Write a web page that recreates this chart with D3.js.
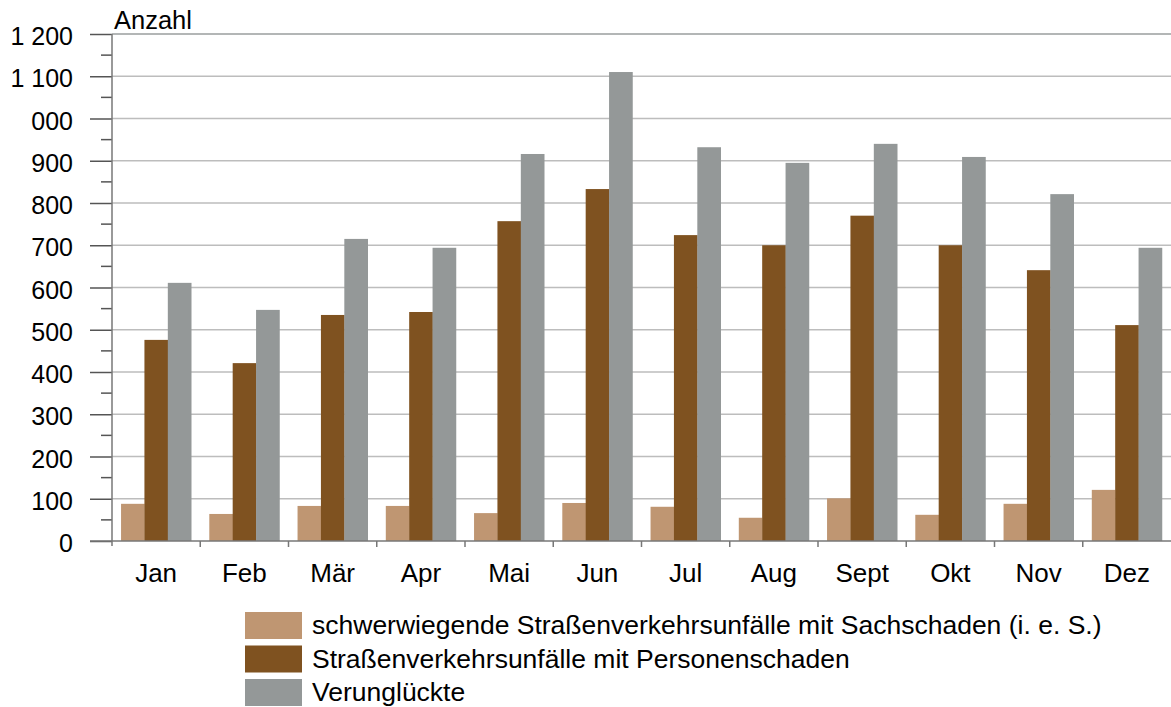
<!DOCTYPE html>
<html>
<head>
<meta charset="utf-8">
<script src="https://cdn.jsdelivr.net/npm/d3@7"></script>
<style>
  body { margin: 0; background: #fff; }
  svg text { font-family: "Liberation Sans", Arial, sans-serif; fill: #000; }
</style>
</head>
<body>
<div id="chart"></div>
<script>
// months on the x axis
const months = ["Jan", "Feb", "Mär", "Apr", "Mai", "Jun", "Jul", "Aug", "Sept", "Okt", "Nov", "Dez"];

// values
const sachschaden = [88, 64, 83, 83, 66, 90, 81, 55, 101, 62, 88, 121];
const personenschaden = [476, 421, 535, 542, 757, 833, 724, 700, 770, 700, 641, 511];
const verunglueckte = [611, 547, 715, 694, 916, 1110, 932, 895, 940, 909, 821, 694];

const seriesNames = [
  "schwerwiegende Straßenverkehrsunfälle mit Sachschaden (i. e. S.)",
  "Straßenverkehrsunfälle mit Personenschaden",
  "Verunglückte"
];
const seriesColors = ["#bf9672", "#7f5220", "#949898"];

const yTicks = [0, 100, 200, 300, 400, 500, 600, 700, 800, 900, 1000, 1100, 1200];
const yTickLabels = ["0", "100", "200", "300", "400", "500", "600", "700", "800", "900", "000", "1 100", "1 200"];

const width = 1171, height = 707;
const margin = {top: 34, right: 0, bottom: 166, left: 112};

const svg = d3.select("#chart").append("svg")
  .attr("width", width)
  .attr("height", height);

// full category slot (ticks at boundaries)
const xSlot = d3.scaleBand().domain(months).range([margin.left, width - margin.right]);

const x1 = d3.scaleBand()
  .domain([0, 1, 2])
  .range([0, xSlot.bandwidth() * 0.795]);

const y = d3.scaleLinear()
  .domain([0, 1200])
  .range([height - margin.bottom, margin.top]);

// gridlines
svg.append("g")
  .selectAll("line")
  .data(yTicks.filter(d => d > 0))
  .join("line")
  .attr("x1", margin.left)
  .attr("x2", width)
  .attr("y1", d => y(d))
  .attr("y2", d => y(d))
  .attr("stroke", d => d === 1200 ? "#9a9e9e" : "#bdbdbd")
  .attr("stroke-width", 1.5);

// bars
const data = [sachschaden, personenschaden, verunglueckte];
const groups = svg.append("g")
  .selectAll("g")
  .data(months)
  .join("g")
  .attr("transform", d => `translate(${xSlot(d) + xSlot.bandwidth() * 0.1025},0)`);

groups.selectAll("rect")
  .data((m, i) => data.map((s, k) => ({k: k, v: s[i]})))
  .join("rect")
  .attr("x", d => x1(d.k))
  .attr("width", x1.bandwidth() + 0.3)
  .attr("y", d => y(d.v))
  .attr("height", d => y(0) - y(d.v))
  .attr("fill", d => seriesColors[d.k]);

// y axis
const yAxis = svg.append("g")
  .attr("transform", `translate(${margin.left},0)`)
  .call(d3.axisLeft(y)
    .tickValues(yTicks)
    .tickSize(22)
    .tickPadding(17)
    .tickFormat((d, i) => yTickLabels[i]));
yAxis.select(".domain").remove();
yAxis.selectAll(".tick line").attr("stroke", "#555").attr("stroke-width", 1.5);
yAxis.selectAll(".tick text")
  .attr("font-size", "25px")
  .attr("dy", "0.42em")
  .attr("fill", "#000");

// minor ticks
svg.append("g")
  .selectAll("line")
  .data(d3.range(50, 1200, 100))
  .join("line")
  .attr("x1", margin.left - 11)
  .attr("x2", margin.left)
  .attr("y1", d => y(d))
  .attr("y2", d => y(d))
  .attr("stroke", "#555")
  .attr("stroke-width", 1.5);

// vertical axis line
svg.append("line")
  .attr("x1", margin.left).attr("x2", margin.left)
  .attr("y1", y(1200)).attr("y2", y(0) + 5)
  .attr("stroke", "#777").attr("stroke-width", 1.5);

// x axis
svg.append("line")
  .attr("x1", margin.left - 22).attr("x2", width)
  .attr("y1", y(0)).attr("y2", y(0))
  .attr("stroke", "#777").attr("stroke-width", 1.5);

svg.append("g")
  .selectAll("line")
  .data(months.slice(1))
  .join("line")
  .attr("x1", d => xSlot(d)).attr("x2", d => xSlot(d))
  .attr("y1", y(0)).attr("y2", y(0) + 6)
  .attr("stroke", "#777").attr("stroke-width", 1.5);

svg.append("g")
  .selectAll("text")
  .data(months)
  .join("text")
  .attr("x", d => xSlot(d) + xSlot.bandwidth() / 2)
  .attr("y", y(0) + 41)
  .attr("text-anchor", "middle")
  .attr("font-size", "26px")
  .text(d => d);

// axis title
svg.append("text")
  .attr("x", 114)
  .attr("y", 29)
  .attr("font-size", "25.5px")
  .text("Anzahl");

// legend
const legend = svg.append("g")
  .selectAll("g")
  .data(seriesNames)
  .join("g")
  .attr("transform", (d, i) => `translate(245,${612 + i * 33.5})`);

legend.append("rect")
  .attr("width", 57)
  .attr("height", 27)
  .attr("fill", (d, i) => seriesColors[i]);

legend.append("text")
  .attr("x", 67)
  .attr("y", 22)
  .attr("font-size", "26.5px")
  .text(d => d);
</script>
</body>
</html>
